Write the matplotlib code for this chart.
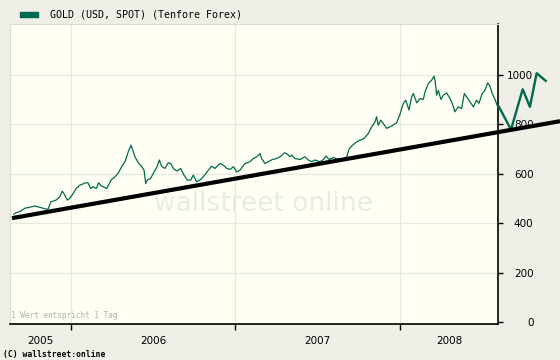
import matplotlib
matplotlib.use("Agg")
import matplotlib.pyplot as plt
from matplotlib.ticker import FixedLocator, NullFormatter, FixedFormatter

# ---- data (fractional years, USD/oz) ----
t = [2005.653, 2005.666, 2005.688, 2005.719, 2005.749, 2005.779, 2005.810, 2005.840,
     2005.860, 2005.878, 2005.909, 2005.931, 2005.947, 2005.962, 2005.978, 2005.992,
     2006.006, 2006.032, 2006.053, 2006.089, 2006.103, 2006.120, 2006.134, 2006.154,
     2006.168, 2006.184, 2006.196, 2006.217, 2006.247, 2006.267, 2006.288, 2006.308,
     2006.328, 2006.348, 2006.365, 2006.375, 2006.389, 2006.409, 2006.430, 2006.444,
     2006.454, 2006.464, 2006.484, 2006.505, 2006.521, 2006.537, 2006.551, 2006.571,
     2006.591, 2006.606, 2006.626, 2006.646, 2006.667, 2006.687, 2006.707, 2006.728,
     2006.743, 2006.764, 2006.784, 2006.804, 2006.835, 2006.855, 2006.875, 2006.906,
     2006.926, 2006.947, 2006.967, 2006.987, 2007.007, 2007.027, 2007.058, 2007.088,
     2007.108, 2007.129, 2007.149, 2007.159, 2007.179, 2007.199, 2007.224, 2007.250,
     2007.271, 2007.297, 2007.311, 2007.331, 2007.342, 2007.362, 2007.392, 2007.422,
     2007.443, 2007.463, 2007.483, 2007.514, 2007.534, 2007.550, 2007.570, 2007.595,
     2007.625, 2007.655, 2007.676, 2007.692, 2007.712, 2007.737, 2007.757, 2007.781,
     2007.807, 2007.828, 2007.848, 2007.858, 2007.868, 2007.883, 2007.898, 2007.919,
     2007.939, 2007.959, 2007.980, 2008.000, 2008.020, 2008.035, 2008.055, 2008.071,
     2008.081, 2008.102, 2008.122, 2008.142, 2008.152, 2008.172, 2008.193, 2008.207,
     2008.213, 2008.223, 2008.233, 2008.249, 2008.263, 2008.284, 2008.304, 2008.318,
     2008.334, 2008.354, 2008.375, 2008.391, 2008.412, 2008.432, 2008.446, 2008.466,
     2008.480, 2008.500, 2008.517, 2008.533, 2008.547, 2008.561, 2008.578, 2008.594]
gold = [436, 442, 446, 460, 464, 469, 464, 458,
        456, 486, 493, 506, 529, 513, 493, 500,
        513, 540, 553, 563, 563, 540, 547, 540,
        563, 550, 547, 540, 577, 587, 603, 628,
        648, 688, 715, 695, 668, 644, 628, 614,
        560, 574, 581, 607, 625, 655, 630, 621,
        644, 641, 617, 611, 621, 594, 574, 574,
        594, 567, 574, 587, 614, 630, 621, 641,
        634, 621, 617, 628, 607, 614, 641, 648,
        661, 668, 681, 661, 641, 648, 657, 661,
        668, 684, 681, 668, 675, 661, 657, 668,
        655, 648, 655, 648, 657, 671, 657, 665,
        657, 661, 668, 702, 715, 729, 735, 742,
        762, 789, 809, 830, 796, 816, 803, 783,
        789, 796, 806, 840, 884, 897, 857, 910,
        924, 886, 904, 900, 930, 964, 978, 994,
        978, 917, 937, 900, 917, 926, 904, 884,
        850, 870, 863, 924, 904, 884, 870, 897,
        884, 924, 937, 967, 954, 924, 900, 870]

# hand-drawn projection after the last quote
proj_t = [2008.602, 2008.675, 2008.746, 2008.790, 2008.831, 2008.886]
proj_v = [870, 778, 941, 870, 1006, 975]

# trend line end points
trend_t = [2005.641, 2008.973]
trend_v = [420, 812]

year_bounds = [2006, 2007, 2008]
year_label_pos = [2005.815, 2006.5, 2007.5, 2008.298]
year_labels = ["2005", "2006", "2007", "2008"]
y_ticks = [0, 200, 400, 600, 800, 1000]

GREEN = "#006a4e"
FIG_BG = "#efeee7"
AX_BG = "#fffff3"
GRID = "#e8e8e2"

fig = plt.figure(figsize=(5.6, 3.6), dpi=100, facecolor=FIG_BG)
ax = fig.add_axes([10 / 560, 36 / 360, 488 / 560, 300 / 360])
ax.set_facecolor(AX_BG)
ax.set_xlim(2005.629, 2008.596)
ax.set_ylim(-8, 1205)

# watermark
ax.text(0.52, 0.40, "wallstreet online", transform=ax.transAxes, ha="center",
        va="center", fontsize=19, color="#ebebe2", family="DejaVu Sans", zorder=1)

ax.plot(t, gold, color=GREEN, lw=0.9, zorder=3)
ax.plot(proj_t, proj_v, color=GREEN, lw=1.7, clip_on=False, zorder=4)
ax.plot(trend_t, trend_v, color="black", lw=3.0, clip_on=False, zorder=5,
        solid_capstyle="butt")

# grid
for yv in y_ticks[1:]:
    ax.axhline(yv, color=GRID, lw=0.9, zorder=0)
for xv in year_bounds:
    ax.axvline(xv, color=GRID, lw=0.9, zorder=0)

# spines
for s in ["left", "top"]:
    ax.spines[s].set_color("#dcdcd4")
    ax.spines[s].set_linewidth(0.8)
ax.spines["bottom"].set_color("black")
ax.spines["bottom"].set_linewidth(1.2)
ax.spines["right"].set_color("black")
ax.spines["right"].set_linewidth(1.2)

# y axis on right
ax.yaxis.tick_right()
ax.yaxis.set_major_locator(FixedLocator(y_ticks))
ax.set_yticklabels([str(v) for v in y_ticks])
ax.tick_params(axis="y", direction="out", length=3.5, width=1.0, pad=22,
               labelsize=7.5, colors="black")
for lab in ax.get_yticklabels():
    lab.set_horizontalalignment("right")

# x axis: ticks at year bounds, labels at year centers
ax.xaxis.set_major_locator(FixedLocator(year_bounds))
ax.xaxis.set_major_formatter(NullFormatter())
ax.xaxis.set_minor_locator(FixedLocator(year_label_pos))
ax.xaxis.set_minor_formatter(FixedFormatter(year_labels))
ax.tick_params(axis="x", which="major", direction="out", length=4, width=1.0)
ax.tick_params(axis="x", which="minor", length=0, pad=9, labelsize=7.5)

# texts
ax.text(0.002, 0.012, "1 Wert entspricht 1 Tag", transform=ax.transAxes,
        fontsize=5.6, color="#b4b4ac", family="DejaVu Sans Mono", va="bottom")
fig.patches.append(plt.Rectangle((20 / 560, 1 - 17 / 360), 18 / 560, 5 / 360,
                                 transform=fig.transFigure, color=GREEN))
fig.text(50 / 560, 1 - 14.5 / 360, "GOLD (USD, SPOT) (Tenfore Forex)",
         fontsize=7.2, family="DejaVu Sans Mono", va="center", ha="left")
fig.text(3 / 560, 1 - 354.5 / 360, "(C) wallstreet:online", fontsize=5.8,
         family="DejaVu Sans Mono", weight="bold", va="center", ha="left")

fig.savefig("out.png", dpi=100, facecolor=FIG_BG)
